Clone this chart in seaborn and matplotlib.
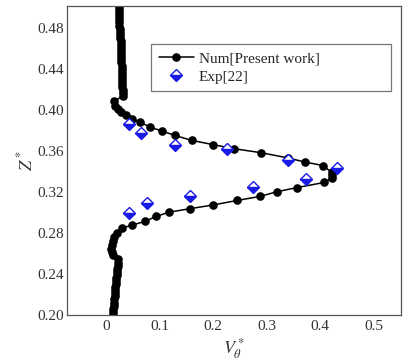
import matplotlib
matplotlib.use('Agg')
import matplotlib.pyplot as plt
import seaborn as sns
import pandas as pd

# numerical profile (V_theta*, Z*), in path order from top to bottom
num_v = [0.024, 0.024, 0.024, 0.025, 0.025, 0.025, 0.025, 0.026, 0.026, 0.026,
         0.026, 0.027, 0.027, 0.027, 0.027, 0.028, 0.028, 0.028, 0.028, 0.029,
         0.029, 0.029, 0.029, 0.030, 0.030, 0.030, 0.030, 0.031, 0.031, 0.031,
         0.014, 0.017, 0.022, 0.028, 0.037, 0.048, 0.063, 0.082, 0.105, 0.128,
         0.160, 0.199, 0.238, 0.290, 0.339, 0.371, 0.405, 0.421, 0.422, 0.421,
         0.407, 0.356, 0.319, 0.288, 0.245, 0.199, 0.157, 0.117, 0.094, 0.072,
         0.049, 0.029, 0.020, 0.015, 0.013, 0.011, 0.010, 0.011, 0.013,
         0.023, 0.022, 0.022, 0.021, 0.021, 0.020, 0.019, 0.019, 0.018, 0.017,
         0.017, 0.016, 0.016, 0.015, 0.014, 0.014, 0.013, 0.013, 0.012]
num_z = [0.500, 0.497, 0.494, 0.491, 0.488, 0.485, 0.482, 0.479, 0.476, 0.473,
         0.470, 0.467, 0.464, 0.461, 0.458, 0.455, 0.452, 0.449, 0.446, 0.443,
         0.440, 0.437, 0.434, 0.431, 0.428, 0.425, 0.422, 0.419, 0.416, 0.413,
         0.408, 0.404, 0.401, 0.398, 0.395, 0.391, 0.388, 0.383, 0.379, 0.375,
         0.370, 0.366, 0.362, 0.358, 0.353, 0.349, 0.3455, 0.339, 0.336, 0.333,
         0.329, 0.324, 0.320, 0.3155, 0.3115, 0.307, 0.3035, 0.300, 0.296, 0.291,
         0.2875, 0.2845, 0.280, 0.276, 0.272, 0.268, 0.264, 0.261, 0.258,
         0.254, 0.251, 0.248, 0.245, 0.242, 0.239, 0.236, 0.233, 0.230, 0.227,
         0.224, 0.221, 0.218, 0.215, 0.212, 0.209, 0.206, 0.203, 0.200]

# experimental points
exp_v = [0.043, 0.065, 0.128, 0.226, 0.339, 0.432, 0.374, 0.274, 0.156, 0.077, 0.043]
exp_z = [0.386, 0.377, 0.366, 0.3617, 0.351, 0.343, 0.332, 0.325, 0.316, 0.309, 0.299]

xticks = [0, 0.1, 0.2, 0.3, 0.4, 0.5]
xtick_labels = ['0', '0.1', '0.2', '0.3', '0.4', '0.5']
yticks = [0.20, 0.24, 0.28, 0.32, 0.36, 0.40, 0.44, 0.48]

num_df = pd.DataFrame({'v': num_v, 'z': num_z})
exp_df = pd.DataFrame({'v': exp_v, 'z': exp_z})

sns.set_style('white')
plt.rcParams['font.family'] = ['Liberation Serif', 'DejaVu Serif']
plt.rcParams['mathtext.fontset'] = 'stix'

fig = plt.figure(figsize=(4.11, 3.64), dpi=100)
ax = fig.add_axes([0.163, 0.135, 0.813, 0.8485])

sns.lineplot(data=num_df, x='v', y='z', sort=False, estimator=None, ax=ax,
             color='black', lw=1.1, marker='o', markersize=6.2,
             markeredgewidth=0, label='Num[Present work]')
sns.lineplot(data=exp_df, x='v', y='z', sort=False, estimator=None, ax=ax,
             linestyle='', marker='D', markersize=5.8, color='#1a1ae6',
             markeredgecolor='#1a1ae6', markerfacecolor='#1a1ae6',
             markerfacecoloralt='white', fillstyle='bottom',
             markeredgewidth=1.0, label='Exp[22]')

ax.set_xlim(-0.073, 0.551)
ax.set_ylim(0.20, 0.501)
ax.set_xticks(xticks)
ax.set_xticklabels(xtick_labels)
ax.set_yticks(yticks)
ax.set_yticklabels(['%.2f' % t for t in yticks])
ax.tick_params(direction='in', length=4.5, width=0.8, labelsize=11,
               colors='#333333', pad=4)
ax.tick_params(axis='y', pad=2)
for sp in ax.spines.values():
    sp.set_color('#555555')
    sp.set_linewidth(0.9)

ax.set_xlabel(r'$V_\theta^*$', fontsize=13, labelpad=2, color='#333333')
ax.set_ylabel(r'$Z^*$', fontsize=13, labelpad=1, color='#333333')

leg = ax.legend(loc='upper left', bbox_to_anchor=(0.251, 0.5, 0.719, 0.377),
                mode='expand', borderaxespad=0, fontsize=11, frameon=True,
                fancybox=False, handlelength=2.3, handletextpad=0.35,
                labelspacing=0.3, borderpad=0.5)
leg.get_frame().set_edgecolor('#555555')
leg.get_frame().set_linewidth(0.9)

fig.savefig('out.png', dpi=100)
